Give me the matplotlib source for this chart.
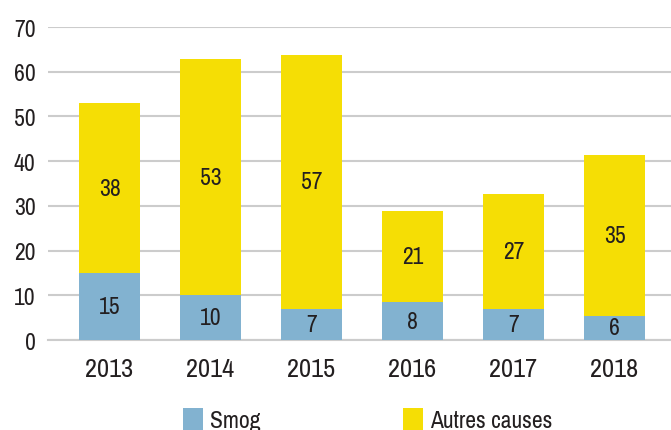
import matplotlib.pyplot as plt
import numpy as np
from matplotlib.patches import Patch
from matplotlib import font_manager

#------------------------------------------------
# Data
years = ['2013', '2014', '2015', '2016', '2017', '2018']
smog = [15.0, 10.0, 6.9, 8.5, 6.9, 5.4]
autres = [37.9, 52.9, 56.9, 20.3, 25.7, 35.9]
smog_labels = ['15', '10', '7', '8', '7', '6']
autres_labels = ['38', '53', '57', '21', '27', '35']

blue = '#82b2d0'
yellow = '#f5de05'
txt = '#231f20'

names = sorted(set(f.name for f in font_manager.fontManager.ttflist))
cands = [n for n in names if 'Condensed' in n or 'Narrow' in n]
fam = cands[:1] + ['DejaVu Sans']
plt.rcParams['font.family'] = fam
plt.rcParams['font.stretch'] = 'condensed'

#------------------------------------------------
fig = plt.figure(figsize=(6.71, 4.31), dpi=100)
ax = fig.add_axes([0.0715, 0.2088, 0.9285, 0.7262])

x = np.arange(len(years))
ax.bar(x, smog, width=0.6, color=blue, zorder=3)
ax.bar(x, autres, width=0.6, bottom=smog, color=yellow, zorder=3)

for i in range(len(years)):
    ax.text(x[i], smog[i] / 2, smog_labels[i], ha='center', va='center',
            fontsize=17, color=txt, zorder=4)
    ax.text(x[i], smog[i] + autres[i] / 2, autres_labels[i], ha='center',
            va='center', fontsize=17, color=txt, zorder=4)

ax.set_xlim(-0.61, 5.56)
ax.set_ylim(0, 70)
ax.set_yticks(np.arange(0, 71, 10))
ax.set_xticks(x)
ax.set_xticklabels(years)
ax.yaxis.grid(True, color='#cccccc', linewidth=1.5, zorder=0)
ax.set_axisbelow(True)
for s in ax.spines.values():
    s.set_visible(False)
ax.tick_params(axis='both', length=0, colors=txt)
ax.tick_params(axis='y', pad=9, labelsize=17)
ax.tick_params(axis='x', pad=12, labelsize=19)
ax.axhline(0, color='#cccccc', linewidth=1.5, zorder=1, clip_on=False)

handles = [Patch(facecolor=blue, label='Smog'),
           Patch(facecolor=yellow, label='Autres causes')]
fig.legend(handles=handles, loc='center', bbox_to_anchor=(0.548, 0.024), ncol=2,
           frameon=False, fontsize=17, handlelength=0.85, handleheight=1.05,
           handletextpad=0.3, columnspacing=6.0, labelcolor=txt)

plt.savefig('out.png', dpi=100)
